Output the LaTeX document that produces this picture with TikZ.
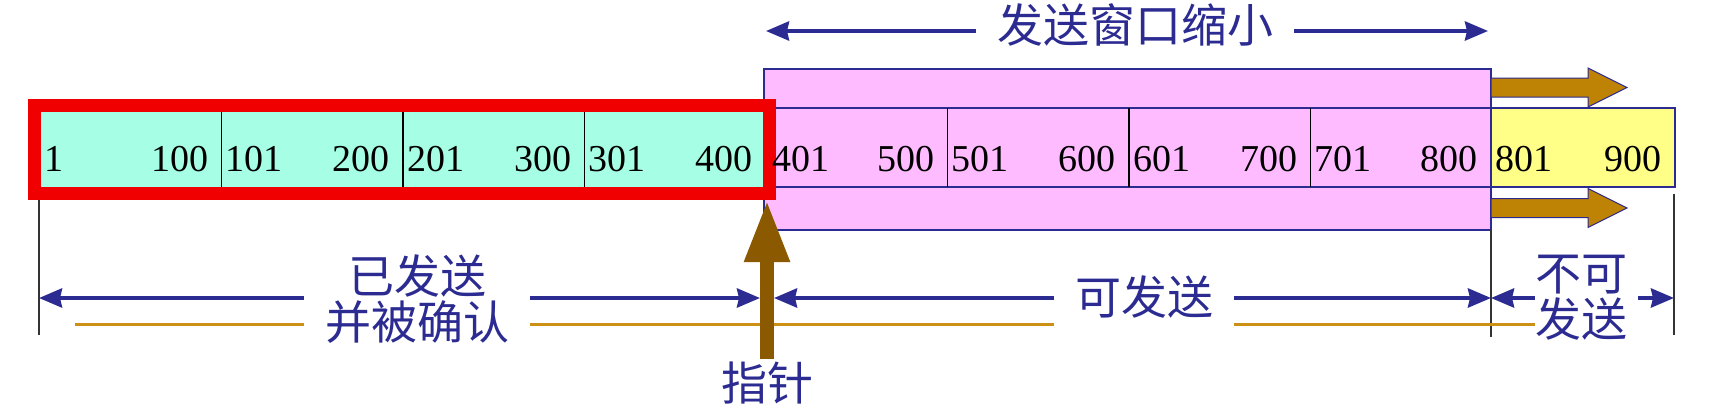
\documentclass[tikz,border=0pt]{standalone}
\usepackage{fontspec}
\setmainfont{Liberation Serif}
\newfontfamily\cjk{Noto Sans CJK SC}
\usetikzlibrary{arrows.meta}
\definecolor{schrift}{RGB}{43,43,145}
\definecolor{zellgruen}{RGB}{166,255,228}
\definecolor{fensterrosa}{RGB}{255,187,255}
\definecolor{zellgelb}{RGB}{255,255,136}
\definecolor{rahmenrot}{RGB}{240,0,0}
\definecolor{zeigerbraun}{RGB}{139,90,0}
\definecolor{blockgold}{RGB}{190,130,4}
\definecolor{linienocker}{RGB}{204,144,20}
\begin{document}
\begin{tikzpicture}[x=1pt,y=-1pt,
  zahl/.style={font=\fontsize{38}{38}\selectfont,inner sep=0pt},
  wort/.style={font=\cjk\fontsize{46}{46}\selectfont,text=schrift,align=center,inner sep=0pt,outer sep=21pt},
  pfeil/.style={draw=schrift,line width=4pt,-{Stealth[length=23pt,width=19pt,inset=2pt]}},
  zeigerpfeil/.style={draw=zeigerbraun,line width=14pt,-{Triangle[length=62pt,width=42pt]}},
  ocker/.style={draw=linienocker,line width=3pt},
  strich/.style={draw=black!80,line width=1.5pt},
  trenner/.style={draw=black,line width=1.2pt},
  blockpfeil/.style={fill=blockgold,draw=schrift,line width=1pt}]
\useasboundingbox (0,0) rectangle (1722,416);

% Fenster
\draw[fill=fensterrosa,draw=schrift,line width=2pt] (764,69) rectangle (1491,230);
\draw[draw=schrift,line width=2pt] (764,108) -- (1491,108);
\draw[draw=schrift,line width=2pt] (764,187) -- (1491,187);
\draw[trenner] (947.5,108) -- (947.5,187);
\draw[trenner] (1129,108) -- (1129,187);
\draw[trenner] (1310.5,108) -- (1310.5,187);
\draw[fill=zellgelb,draw=schrift,line width=2pt] (1491,108) rectangle (1674.5,187);

% Verschiebung
\draw[blockpfeil] (1491,78) -- (1588,78) -- (1588,68) -- (1627,87.5) -- (1588,107) -- (1588,97) -- (1491,97) -- cycle;
\draw[blockpfeil] (1491,198.5) -- (1588,198.5) -- (1588,188.5) -- (1627,208) -- (1588,227.5) -- (1588,217.5) -- (1491,217.5) -- cycle;

% bestaetigt
\fill[zellgruen] (40,108) rectangle (766,187);
\draw[trenner] (221.5,108) -- (221.5,187);
\draw[trenner] (403,108) -- (403,187);
\draw[trenner] (584.5,108) -- (584.5,187);
\draw[rahmenrot,line width=13pt] (34.5,105.5) rectangle (769.5,193.5);

% Grenzen
\draw[strich] (39,200) -- (39,335);
\draw[strich] (1491,230) -- (1491,337);
\draw[strich] (1674,194) -- (1674,335);

% Nummern
\node[zahl,anchor=base west] (1) at (44,171) {1};
\node[zahl,anchor=base east] (100) at (208.5,171) {100};
\node[zahl,anchor=base west] (101) at (225.5,171) {101};
\node[zahl,anchor=base east] (200) at (390,171) {200};
\node[zahl,anchor=base west] (201) at (407,171) {201};
\node[zahl,anchor=base east] (300) at (571.5,171) {300};
\node[zahl,anchor=base west] (301) at (588.5,171) {301};
\node[zahl,anchor=base east] (400) at (753,171) {400};
\node[zahl,anchor=base west] (401) at (772,171) {401};
\node[zahl,anchor=base east] (500) at (934.5,171) {500};
\node[zahl,anchor=base west] (501) at (951.5,171) {501};
\node[zahl,anchor=base east] (600) at (1116,171) {600};
\node[zahl,anchor=base west] (601) at (1133,171) {601};
\node[zahl,anchor=base east] (700) at (1297.5,171) {700};
\node[zahl,anchor=base west] (701) at (1314.5,171) {701};
\node[zahl,anchor=base east] (800) at (1478,171) {800};
\node[zahl,anchor=base west] (801) at (1495.5,171) {801};
\node[zahl,anchor=base east] (900) at (1661.5,171) {900};

% Beschriftungen
\node[wort] (schrumpf) at (1135,25) {发送窗口缩小};
\node[wort] (bestaetigt) at (417,299) {已发送\\并被确认};
\node[wort] (sendbar) at (1144,297) {可发送};
\node[wort,outer sep=0pt] (gesperrt) at (1581,298) {不可\\发送};
\node[wort,outer sep=3pt] (zeiger) at (767,383) {指针};

\coordinate (fl) at (766,31);
\coordinate (fr) at (1488,31);
\coordinate (L) at (39,298);
\coordinate (P) at (767,200);
\coordinate (R) at (1491,298);
\coordinate (E) at (1674,298);
\coordinate (G) at (75,324);

% Pfeile
\draw[pfeil] (schrumpf.west |- fl) -- (fl);
\draw[pfeil] (schrumpf.east |- fr) -- (fr);
\draw[ocker] (G) -- (bestaetigt.west |- G);
\draw[ocker] (bestaetigt.east |- G) -- (sendbar.west |- G);
\draw[ocker] (sendbar.east |- G) -- (gesperrt.west |- G);
\draw[pfeil] (bestaetigt.west |- L) -- (L);
\draw[pfeil,shorten >=7pt] (bestaetigt.east |- L) -- (L -| P);
\draw[pfeil,shorten >=7pt] (sendbar.west |- L) -- (L -| P);
\draw[pfeil] (sendbar.east |- L) -- (R);
\draw[pfeil] (gesperrt.west |- L) -- (R);
\draw[pfeil] ([xshift=11pt]gesperrt.east) -- (E);
\draw[zeigerpfeil] (zeiger.north) -- (P);
\end{tikzpicture}
\end{document}
